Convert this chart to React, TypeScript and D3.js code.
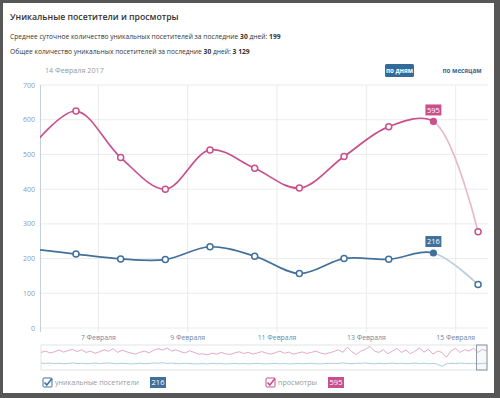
import * as d3 from "d3";

const W = 500;
const H = 398;

// daily points (noon of each day), 5 Feb is off the left edge
const days = ["2017-02-05", "2017-02-06", "2017-02-07", "2017-02-08", "2017-02-09", "2017-02-10", "2017-02-11", "2017-02-12", "2017-02-13", "2017-02-14", "2017-02-15"];
const views = [520, 625, 491, 400, 513, 460, 403, 494, 580, 595, 277];
const visitors = [228, 213, 199, 197, 234, 207, 157, 200, 198, 216, 125];
const yTicks = [0, 100, 200, 300, 400, 500, 600, 700];

// navigator (finer data, whole period)
const navViews = [520, 560, 505, 540, 590, 530, 575, 610, 545, 600, 520, 560, 495, 540, 600, 555, 630, 520, 585, 540, 500, 470, 525, 560, 505, 585, 630, 590, 650, 560, 600, 540, 505, 570, 520, 470, 480, 450, 500, 470, 520, 480, 460, 505, 540, 490, 520, 470, 505, 545, 500, 470, 510, 560, 495, 530, 470, 500, 535, 490, 520, 560, 505, 470, 510, 545, 600, 520, 680, 540, 460, 560, 610, 700, 560, 520, 600, 480, 560, 640, 520, 590, 480, 560, 650, 530, 610, 470, 560, 520, 380, 560, 640, 520, 600, 560, 640, 520, 610, 560];
const navVisitors = [200, 195, 205, 190, 200, 185, 195, 210, 190, 200, 185, 195, 205, 190, 200, 210, 195, 185, 200, 190, 180, 190, 200, 185, 195, 210, 200, 215, 195, 205, 190, 185, 200, 190, 180, 185, 190, 180, 195, 185, 190, 180, 185, 195, 185, 190, 180, 190, 200, 185, 180, 190, 195, 185, 190, 180, 185, 195, 185, 190, 200, 185, 180, 190, 195, 200, 190, 210, 195, 185, 200, 195, 210, 190, 185, 200, 190, 195, 205, 190, 200, 185, 195, 205, 190, 200, 185, 195, 170, 110, 180, 200, 190, 205, 195, 190, 200, 185, 195, 200];

const PINK = "#c9508d";
const PINK_LIGHT = "#e9b8cf";
const BLUE = "#41719b";
const BLUE_LIGHT = "#b9cfdf";
const FONT = "'Open Sans', sans-serif";

const plot = { left: 40, right: 488, top: 85, bottom: 328 };

export default function App() {
  const dates = days.map((d) => new Date(d + "T12:00:00Z"));
  const x = d3
    .scaleUtc()
    .domain([new Date("2017-02-05T16:40:00Z"), new Date("2017-02-15T17:20:00Z")])
    .range([plot.left, plot.right]);
  const y = d3.scaleLinear().domain([0, 700]).range([plot.bottom, plot.top]);
  const xTicks = x.ticks(d3.utcDay.every(2)!);

  const line = d3
    .line<number>()
    .x((_, i) => x(dates[i]))
    .y((d) => y(d))
    .curve(d3.curveCatmullRom.alpha(0.5));

  const hover = 9; // 14 Feb
  const hx = x(dates[hover]);

  const xn = d3.scaleLinear().domain([0, navViews.length - 1]).range([41, 487]);
  const yn = d3.scaleLinear().domain([0, 740]).range([370, 345]);
  const navLine = d3
    .line<number>()
    .x((_, i) => xn(i))
    .y((d) => yn(d));

  const series = [
    { data: views, color: PINK, light: PINK_LIGHT },
    { data: visitors, color: BLUE, light: BLUE_LIGHT },
  ];

  const check = (cx: number, cy: number, color: string) => (
    <g>
      <rect x={cx} y={cy} width={9} height={9} rx={1} fill="#fff" stroke={color} strokeWidth={1} />
      <path d={`M${cx + 1.5},${cy + 4.5} L${cx + 3.8},${cy + 7} L${cx + 9},${cy + 0.5}`} fill="none" stroke={color} strokeWidth={1.6} />
    </g>
  );

  return (
    <svg width={W} height={H} style={{ position: "absolute", left: 0, top: 0 }} fontFamily={FONT}>
      <defs>
        <clipPath id="solid">
          <rect x={plot.left} y={0} width={hx - plot.left} height={H} />
        </clipPath>
        <clipPath id="faded">
          <rect x={hx} y={0} width={plot.right - hx} height={H} />
        </clipPath>
      </defs>
      <rect x={0} y={0} width={W} height={H} fill="#575757" />
      <rect x={3} y={3} width={491} height={390} fill="#fff" />

      <text x={10} y={20} fontSize={8.7} fontWeight={600} fill="#333">
        Уникальные посетители и просмотры
      </text>
      <text x={10} y={39} fontSize={6.7} fill="#333">
        Среднее суточное количество уникальных посетителей за последние <tspan fontWeight={700}>30</tspan> дней: <tspan fontWeight={700}>199</tspan>
      </text>
      <text x={10} y={54} fontSize={6.7} fill="#333">
        Общее количество уникальных посетителей за последние <tspan fontWeight={700}>30</tspan> дней: <tspan fontWeight={700}>3 129</tspan>
      </text>
      <text x={45} y={72.5} fontSize={7.2} fill="#999">
        14 Февраля 2017
      </text>

      <rect x={385} y={64} width={29} height={13} rx={1.5} fill="#336a9a" />
      <text x={399.5} y={72.8} fontSize={6.3} fontWeight={700} fill="#fff" textAnchor="middle">
        по дням
      </text>
      <text x={462} y={72.8} fontSize={6.3} fontWeight={700} fill="#336a9a" textAnchor="middle">
        по месяцам
      </text>

      {/* grid */}
      {yTicks.map((t) => (
        <g key={t}>
          <line x1={plot.left} x2={plot.right} y1={y(t)} y2={y(t)} stroke="#ebebeb" />
          <text x={35} y={y(t) + 2.5} fontSize={7} fill="#8c9db3" textAnchor="end">
            {t}
          </text>
        </g>
      ))}
      {xTicks.map((t) => (
        <g key={+t}>
          <line x1={x(t)} x2={x(t)} y1={plot.top} y2={plot.bottom + 4} stroke="#ebebeb" />
          <text x={x(t)} y={339.5} fontSize={6.9} fill="#7188a2" textAnchor="middle">
            {`${t.getUTCDate()} Февраля`}
          </text>
        </g>
      ))}
      <line x1={plot.left + 0.5} x2={plot.left + 0.5} y1={plot.top} y2={plot.bottom + 4} stroke="#c4d0df" />

      {/* series */}
      {series.map((s, k) => (
        <g key={k}>
          <path d={line(s.data)!} fill="none" stroke={s.color} strokeWidth={1.7} clipPath="url(#solid)" />
          <path d={line(s.data)!} fill="none" stroke={s.light} strokeWidth={1.7} clipPath="url(#faded)" />
          {s.data.map((v, i) =>
            i === 0 ? null : i === hover ? (
              <circle key={i} cx={x(dates[i])} cy={y(v)} r={3.6} fill={s.color} />
            ) : (
              <circle key={i} cx={x(dates[i])} cy={y(v)} r={3} fill="#fff" stroke={s.color} strokeWidth={1.5} />
            )
          )}
          <rect x={hx - 8} y={y(s.data[hover]) - 17} width={16} height={11} fill={s.color} />
          <text x={hx} y={y(s.data[hover]) - 8.7} fontSize={7.5} fill="#fff" textAnchor="middle">
            {s.data[hover]}
          </text>
        </g>
      ))}

      {/* navigator */}
      <rect x={41} y={345} width={446} height={25} fill="none" stroke="#dfe3e8" />
      <path d={navLine(navViews)!} fill="none" stroke="#e3a9c6" strokeWidth={1} />
      <path d={navLine(navVisitors)!} fill="none" stroke="#a9d0dc" strokeWidth={1} />
      <rect x={476.5} y={345} width={10.5} height={25} fill="rgba(200,210,220,0.15)" stroke="#8f98a3" />

      {/* legend */}
      {check(43, 378, BLUE)}
      <text x={55} y={385} fontSize={7.1} fill="#999">
        уникальные посетители
      </text>
      <rect x={150} y={377} width={16} height={11} fill={BLUE} />
      <text x={158} y={385.3} fontSize={7.5} fill="#fff" textAnchor="middle">
        {visitors[hover]}
      </text>
      {check(266, 378, PINK)}
      <text x={278} y={385} fontSize={7.1} fill="#999">
        просмотры
      </text>
      <rect x={328} y={377} width={16} height={11} fill={PINK} />
      <text x={336} y={385.3} fontSize={7.5} fill="#fff" textAnchor="middle">
        {views[hover]}
      </text>
    </svg>
  );
}
